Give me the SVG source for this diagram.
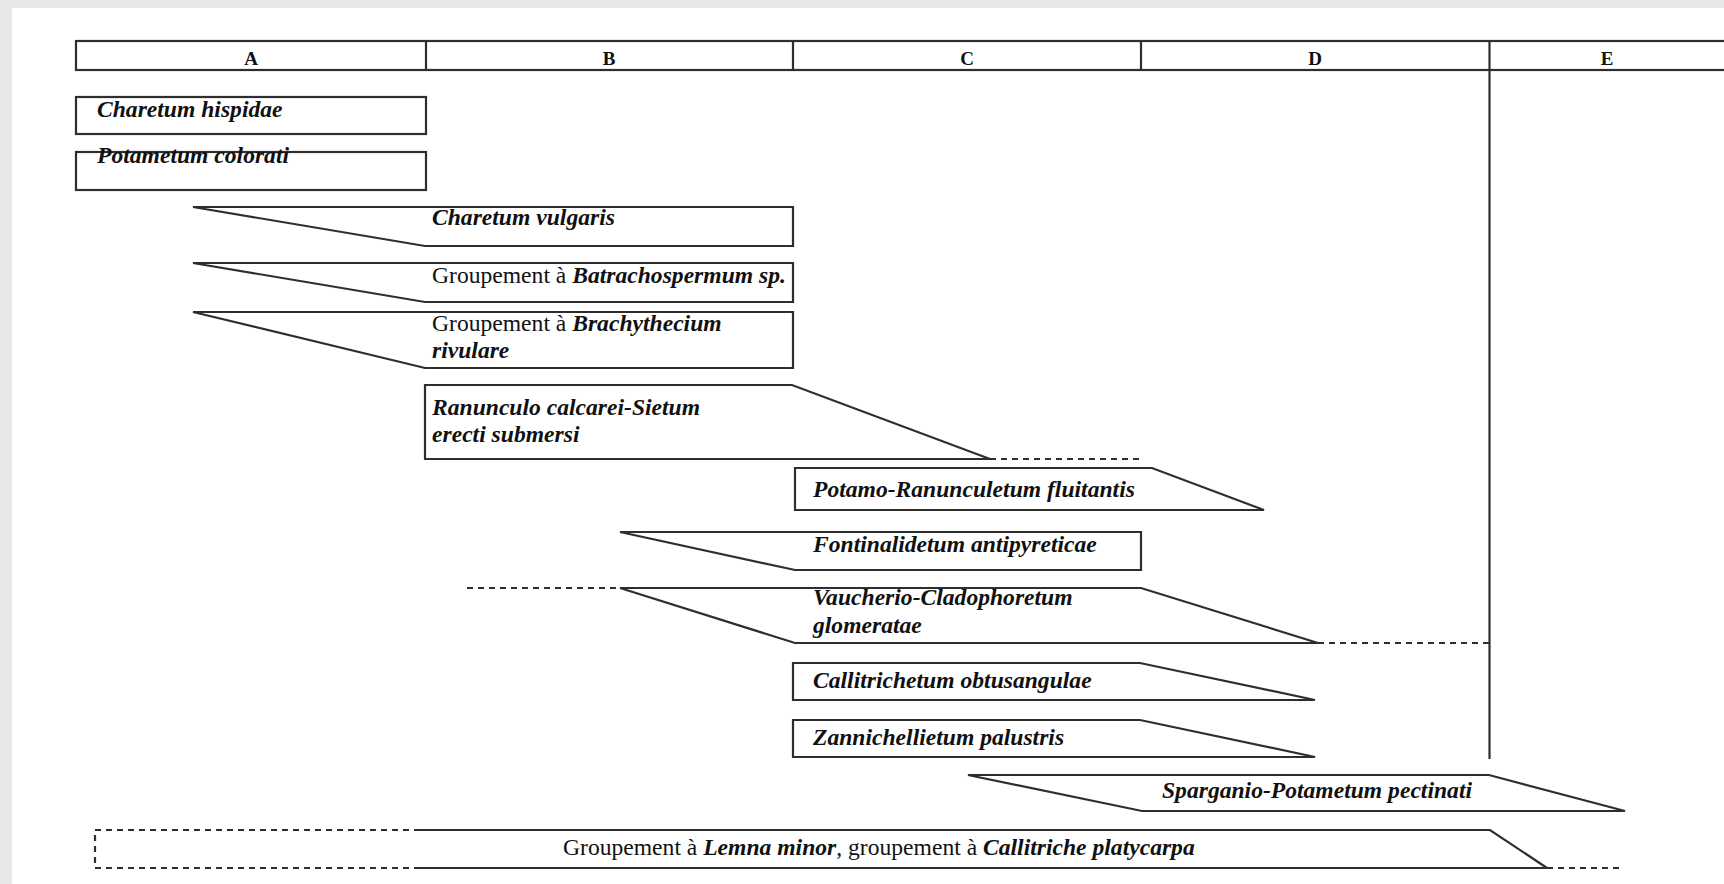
<svg xmlns="http://www.w3.org/2000/svg" width="1724" height="884" viewBox="0 0 1724 884">
<style>
.ln{fill:#fff;stroke:#2e2e2e;stroke-width:2.2;stroke-linejoin:miter}
.dash{fill:none;stroke:#2e2e2e;stroke-width:2.2;stroke-dasharray:6 5}
.sl{fill:none;stroke:#2e2e2e;stroke-width:2.2}
text{font-family:"Liberation Serif","Times New Roman",serif;fill:#111;font-size:23.6px}
.bi{font-weight:bold;font-style:italic}
.hd{font-weight:bold;font-size:19px;text-anchor:middle}
</style>
<rect x="0" y="0" width="1724" height="884" fill="#e8e8e8"/>
<rect x="12" y="8" width="1712" height="876" fill="#fff"/>

<g id="header">
<rect class="ln" x="76" y="41" width="1660" height="29"/>
<line class="sl" x1="426" y1="41" x2="426" y2="70"/>
<line class="sl" x1="793" y1="41" x2="793" y2="70"/>
<line class="sl" x1="1141" y1="41" x2="1141" y2="70"/>
<line class="sl" x1="1489.5" y1="41" x2="1489.5" y2="759"/>
<text class="hd" x="251" y="65">A</text>
<text class="hd" x="609" y="65">B</text>
<text class="hd" x="967" y="65">C</text>
<text class="hd" x="1315" y="65">D</text>
<text class="hd" x="1607" y="65">E</text>
</g>

<g id="connectors">
<line class="dash" x1="990" y1="459" x2="1141" y2="459"/>
<line class="dash" x1="467" y1="588" x2="620" y2="588"/>
<line class="dash" x1="1318" y1="643" x2="1489" y2="643"/>
<polyline class="dash" points="420,830 95,830 95,868 420,868"/>
<line class="dash" x1="1547" y1="868" x2="1622" y2="868"/>
</g>

<g id="charetum-hispidae">
<rect class="ln" x="76" y="97" width="350" height="37"/>
<text class="bi" x="97" y="117">Charetum hispidae</text>
</g>

<g id="potametum-colorati">
<rect class="ln" x="76" y="152" width="350" height="38"/>
<text class="bi" x="97" y="163">Potametum colorati</text>
</g>

<g id="charetum-vulgaris">
<polygon class="ln" points="193,207 793,207 793,246 425,246"/>
<text class="bi" x="432" y="225">Charetum vulgaris</text>
</g>

<g id="batrachospermum">
<polygon class="ln" points="193,263 793,263 793,302 425,302"/>
<text x="432" y="283">Groupement à <tspan class="bi">Batrachospermum sp.</tspan></text>
</g>

<g id="brachythecium">
<polygon class="ln" points="193,312 793,312 793,368 425,368"/>
<text x="432" y="331">Groupement à <tspan class="bi">Brachythecium</tspan></text>
<text class="bi" x="432" y="358">rivulare</text>
</g>

<g id="ranunculo-sietum">
<polygon class="ln" points="425,385 792,385 990,459 425,459"/>
<text class="bi" x="432" y="415">Ranunculo calcarei-Sietum</text>
<text class="bi" x="432" y="442">erecti submersi</text>
</g>

<g id="potamo-ranunculetum">
<polygon class="ln" points="795,468 1152,468 1264,510 795,510"/>
<text class="bi" x="813" y="497">Potamo-Ranunculetum fluitantis</text>
</g>

<g id="fontinalidetum">
<polygon class="ln" points="620,532 1141,532 1141,570 795,570"/>
<text class="bi" x="813" y="552">Fontinalidetum antipyreticae</text>
</g>

<g id="vaucherio-cladophoretum">
<polygon class="ln" points="620,588 1141,588 1318,643 795,643"/>
<text class="bi" x="813" y="605">Vaucherio-Cladophoretum</text>
<text class="bi" x="813" y="633">glomeratae</text>
</g>

<g id="callitrichetum">
<polygon class="ln" points="793,663 1140,663 1315,700 793,700"/>
<text class="bi" x="813" y="688">Callitrichetum obtusangulae</text>
</g>

<g id="zannichellietum">
<polygon class="ln" points="793,720 1140,720 1315,757 793,757"/>
<text class="bi" x="813" y="745">Zannichellietum palustris</text>
</g>

<g id="sparganio-potametum">
<polygon class="ln" points="968,775 1489,775 1625,811 1142,811"/>
<text class="bi" x="1472" y="798" text-anchor="end">Sparganio-Potametum pectinati</text>
</g>

<g id="lemna-callitriche">
<polyline class="sl" points="420,830 1490,830 1547,868 420,868"/>
<text x="563" y="855">Groupement à <tspan class="bi">Lemna minor</tspan>, groupement à <tspan class="bi">Callitriche platycarpa</tspan></text>
</g>
</svg>
